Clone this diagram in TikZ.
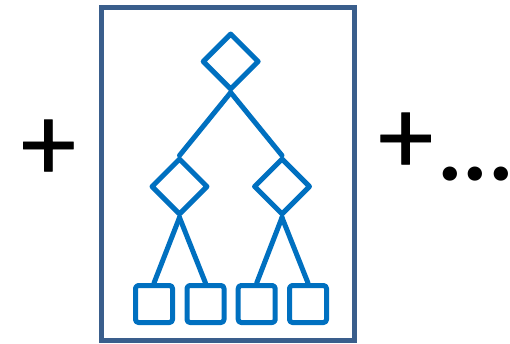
\documentclass[tikz,border=0pt]{standalone}
\usepackage{fontspec}
\setmainfont{Carlito}
\newfontfamily\plusf{Carlito}[FakeBold=0.7]
\usetikzlibrary{shapes.geometric}
\definecolor{frameblue}{RGB}{58,94,140}
\definecolor{treeblue}{RGB}{0,112,192}
\begin{document}
\begin{tikzpicture}[x=1pt,y=-1pt,
  tree/.style={draw=treeblue,line width=5pt,line join=round},
  dia/.style={tree,diamond,aspect=1,minimum size=57pt,inner sep=0pt},
  leaf/.style={tree,rectangle,rounded corners=3pt,minimum size=37pt,inner sep=0pt},
  edge/.style={draw=treeblue,line width=5pt,line cap=round},
  plusfont/.style={font=\plusf\fontsize{110}{110}\selectfont,inner sep=0pt}]
\useasboundingbox (0,0) rectangle (510,343);
\fill[white] (0,0) rectangle (510,343);
\node[draw=frameblue,line width=5pt,minimum width=253pt,minimum height=333pt,inner sep=0pt] (frame) at (227.5,174) {};
\node[dia] (t) at (230.7,61.5) {};
\node[dia] (l) at (179.5,186.5) {};
\node[dia] (r) at (282,186.5) {};
\node[leaf] (s1) at (154,304) {};
\node[leaf] (s2) at (205.5,304) {};
\node[leaf] (s3) at (256.7,304) {};
\node[leaf] (s4) at (308,304) {};
\draw[edge] (t.south) -- (l.north);
\draw[edge] (t.south) -- (r.north);
\draw[edge] (l.south) -- (s1.north);
\draw[edge] (l.south) -- (s2.north);
\draw[edge] (r.south) -- (s3.north);
\draw[edge] (r.south) -- (s4.north);
\node[plusfont,anchor=base west] (pl) at (20.9,180.3) {+};
\node[plusfont,anchor=base west] (pr) at (378.1,173.3) {+\hspace{4pt}\raisebox{-6.7pt}{\fontsize{96}{96}\selectfont\rmfamily\bfseries ...}};
\end{tikzpicture}
\end{document}
